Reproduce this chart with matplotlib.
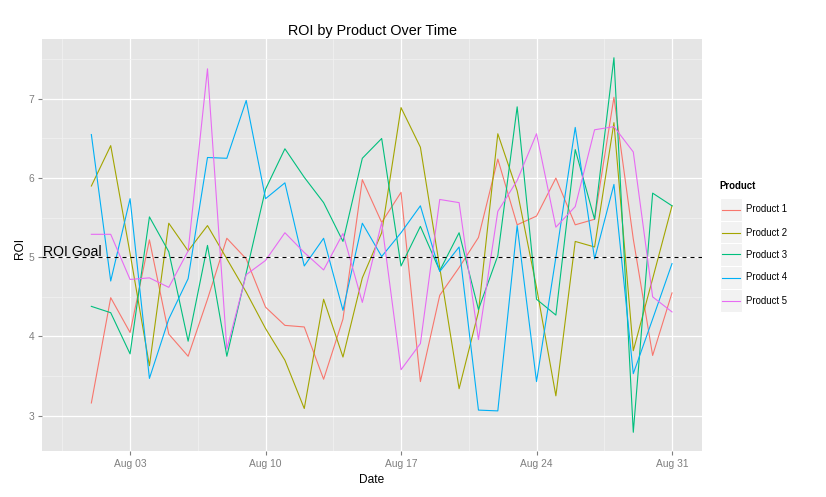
import numpy as np
import pandas as pd
import matplotlib
matplotlib.use('Agg')
import matplotlib.pyplot as plt
import matplotlib.dates as mdates
from matplotlib.lines import Line2D
from matplotlib.patches import Rectangle

plt.rcParams['font.family'] = ['Liberation Sans', 'DejaVu Sans']

# data
dates = pd.date_range('2015-08-01', '2015-08-31', freq='D')
products = ['Product 1', 'Product 2', 'Product 3', 'Product 4', 'Product 5']
colors = ['#F8766D', '#A3A500', '#00BF7D', '#00B0F6', '#E76BF3']

roi_p1 = [3.16, 4.49, 4.05, 5.22, 4.03, 3.75, 4.47, 5.24, 4.98, 4.37, 4.14, 4.12, 3.46, 4.22, 5.98, 5.44,
          5.82, 3.43, 4.52, 4.87, 5.25, 6.24, 5.41, 5.52, 6.00, 5.41, 5.48, 7.02, 5.23, 3.76, 4.55]
roi_p2 = [5.90, 6.41, 5.05, 3.63, 5.43, 5.08, 5.40, 4.98, 4.56, 4.10, 3.70, 3.09, 4.47, 3.74, 4.74, 5.31,
          6.89, 6.39, 4.87, 3.34, 4.31, 6.56, 5.84, 4.62, 3.25, 5.20, 5.13, 6.70, 3.82, 4.73, 5.65]
roi_p3 = [4.38, 4.30, 3.78, 5.51, 5.07, 3.94, 5.15, 3.75, 4.80, 5.86, 6.37, 6.01, 5.69, 5.20, 6.25, 6.50,
          4.89, 5.39, 4.83, 5.31, 4.34, 5.02, 6.90, 4.47, 4.27, 6.36, 5.48, 7.52, 2.79, 5.81, 5.65]
roi_p4 = [6.55, 4.70, 5.74, 3.47, 4.22, 4.73, 6.26, 6.25, 6.98, 5.74, 5.94, 4.89, 5.24, 4.33, 5.43, 5.01,
          5.31, 5.65, 4.82, 5.13, 3.07, 3.06, 5.40, 3.43, 5.00, 6.64, 4.98, 5.92, 3.53, 4.22, 4.92]
roi_p5 = [5.29, 5.29, 4.72, 4.74, 4.62, 5.08, 7.38, 3.84, 4.78, 4.96, 5.31, 5.06, 4.84, 5.30, 4.43, 5.44,
          3.58, 3.91, 5.73, 5.69, 3.96, 5.58, 5.97, 6.56, 5.38, 5.64, 6.61, 6.65, 6.33, 4.50, 4.31]
series = [roi_p1, roi_p2, roi_p3, roi_p4, roi_p5]

roi_goal = 5
goal_label = 'ROI Goal'
goal_label_date = pd.Timestamp('2015-07-31')
tick_dates = pd.to_datetime(['2015-08-03', '2015-08-10', '2015-08-17', '2015-08-24', '2015-08-31'])
y_ticks = [3, 4, 5, 6, 7]

W, H = 826, 497
fx = lambda px: px / W
fy = lambda py: 1 - py / H

fig = plt.figure(figsize=(W / 100, H / 100), dpi=100)
ax = fig.add_axes([fx(42), fy(451), (702 - 42) / W, (451 - 39) / H])
ax.set_facecolor('#E5E5E5')
for s in ax.spines.values():
    s.set_visible(False)

x = mdates.date2num(dates)
xt = mdates.date2num(tick_dates)
x_goal = mdates.date2num(goal_label_date)

for vals, c in zip(series, colors):
    ax.plot(x, vals, color=c, lw=0.8)

ax.axhline(roi_goal, color='black', lw=0.8, ls=(0, (3.6, 3.6)))
ax.text(x_goal, roi_goal + 0.01, goal_label, ha='center', va='baseline', fontsize=10.1)

# ggplot style 5% expansion
x0, x1 = x_goal, x[-1]
allv = np.concatenate([np.array(v) for v in series])
y0, y1 = allv.min(), allv.max()
ax.set_xlim(x0 - 0.05 * (x1 - x0), x1 + 0.05 * (x1 - x0))
ax.set_ylim(y0 - 0.05 * (y1 - y0), y1 + 0.05 * (y1 - y0))

ax.set_xticks(xt)
ax.set_xticklabels([d.strftime('%b %d') for d in tick_dates])
ax.set_xticks(xt - 3.5, minor=True)
ax.set_yticks(y_ticks)
ax.set_yticklabels([str(v) for v in y_ticks])
ax.set_yticks([v + 0.5 for v in y_ticks], minor=True)

ax.grid(which='major', color='white', lw=0.9)
ax.grid(which='minor', color='#F2F2F2', lw=0.5)
ax.set_axisbelow(True)
ax.tick_params(which='major', length=2.9, width=0.8, color='#7F7F7F', labelcolor='#7F7F7F',
               labelsize=7.4, pad=2.6)
ax.tick_params(which='minor', length=0)

fig.text(fx(372), fy(35), 'ROI by Product Over Time', ha='center', va='baseline', fontsize=10.4)
fig.text(fx(372), fy(480), 'Date', ha='center', va='center', fontsize=8.6)
fig.text(fx(20), fy(248), 'ROI', ha='center', va='center', rotation=90, fontsize=8.6)

# legend
fig.text(fx(719), fy(186), 'Product', ha='left', va='center', fontsize=6.9, fontweight='bold')
for i, (name, c) in enumerate(zip(products, colors)):
    cy = round(208.7 + 22.9 * i) + 0.5
    fig.patches.append(Rectangle((fx(720), fy(cy + 11.45)), 22 / W, 22.9 / H, transform=fig.transFigure,
                                 facecolor='#F2F2F2', edgecolor='white', lw=0.8, zorder=1))
    fig.lines.append(Line2D([fx(722), fx(740)], [fy(cy), fy(cy)], transform=fig.transFigure,
                            color=c, lw=0.8, zorder=3))
    fig.text(fx(746), fy(cy), name, ha='left', va='center', fontsize=6.9)

fig.savefig('out.png', dpi=100)
